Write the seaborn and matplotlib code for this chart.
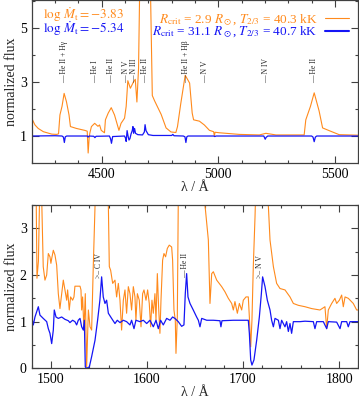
import numpy as np
import matplotlib
matplotlib.use("Agg")
import matplotlib.pyplot as plt
from matplotlib.lines import Line2D
from matplotlib.ticker import MultipleLocator, FixedLocator
import seaborn as sns

# --- optical range (top panel) ---
opt_wave_a = [4200, 4214, 4228, 4250, 4286, 4307, 4315, 4321, 4330, 4339,
              4349, 4360, 4366, 4392, 4427, 4438, 4442, 4446, 4449, 4456,
              4470, 4484, 4491, 4498, 4512, 4516, 4528, 4541, 4555, 4574,
              4583, 4598, 4605, 4612, 4623, 4636, 4644, 4651, 4658, 4663,
              4668, 4680, 4695, 4705, 4710, 4717, 4727, 4755, 4776, 4797,
              4818, 4825, 4839, 4858, 4868, 4877, 4888, 4894, 4919, 4940,
              4962, 4980, 4983, 4986, 5005, 5090, 5176, 5204, 5247, 5368,
              5375, 5395, 5411, 5432, 5447, 5475, 5518, 5600]
opt_flux_a = [1.66, 1.41, 1.28, 1.16, 1.07, 1.06, 1.08, 1.78, 2.10, 2.58,
              2.27, 1.78, 1.35, 1.28, 1.21, 1.18, 0.37, 0.90, 1.10, 1.35,
              1.47, 1.36, 1.41, 1.21, 1.12, 1.60, 1.85, 2.05, 1.78, 1.21,
              1.47, 1.66, 2.10, 3.05, 2.77, 3.00, 3.10, 2.26, 3.50, 6.50,
              9.00, 12.0, 10.0, 7.00, 6.00, 2.50, 2.30, 1.80, 1.30, 1.15,
              1.13, 1.35, 2.20, 3.25, 3.10, 2.96, 1.85, 1.60, 1.55, 1.41,
              1.21, 1.16, 1.00, 1.14, 1.12, 1.06, 1.04, 1.10, 1.04, 1.04,
              1.60, 2.10, 2.60, 1.93, 1.30, 1.20, 1.05, 1.03]

opt_wave_b = [4200, 4300, 4330, 4336, 4340, 4344, 4350, 4438, 4442, 4446,
              4466, 4471, 4476, 4533, 4538, 4542, 4547, 4598, 4602, 4605,
              4609, 4613, 4617, 4621, 4626, 4631, 4634, 4637, 4641, 4645,
              4655, 4675, 4683, 4686, 4690, 4700, 4720, 4800, 4805, 4810,
              4850, 4857, 4861, 4865, 4870, 4980, 4985, 4990, 5195, 5201,
              5205, 5212, 5400, 5406, 5411, 5416, 5422, 5600]
opt_flux_b = [1.00, 1.01, 1.00, 0.96, 0.76, 0.97, 1.00, 1.00, 0.96, 1.00,
              0.99, 0.94, 0.99, 1.00, 0.90, 0.73, 0.98, 1.00, 0.92, 0.80,
              1.20, 1.00, 0.85, 0.90, 1.08, 1.20, 1.35, 1.10, 1.28, 1.10,
              1.05, 1.04, 1.15, 1.42, 1.20, 1.05, 1.02, 1.02, 1.06, 1.01,
              1.00, 0.97, 0.76, 0.97, 1.00, 1.00, 0.98, 1.00, 1.00, 0.88,
              0.95, 1.00, 1.00, 0.96, 0.79, 0.96, 1.00, 1.00]

opt_line_wave = [4340, 4471, 4542, 4604, 4640, 4686, 4861, 4945, 5204, 5412]
opt_line_name = ["He II + H\u03b3", "He I", "He II", "N V", "N III", "He II",
                 "He II + H\u03b2", "N V", "N IV", "He II"]

# --- UV range (bottom panel) ---
uv_wave_a = [1480, 1484.5, 1485.5, 1487, 1488.5, 1490, 1492, 1493.8, 1495.6, 1497.3,
             1499, 1500, 1500.8, 1502.5, 1504.2, 1506, 1507.7, 1509.4, 1511.2, 1512.9,
             1514.6, 1516.4, 1517.4, 1519.1, 1520.5, 1522.6, 1524, 1525, 1530.3, 1531.3,
             1532, 1533, 1534.4, 1535.8, 1537.2, 1539, 1540.7, 1542.4, 1544.1, 1545.9,
             1547, 1558, 1559.8, 1560.8, 1562.2, 1564.3, 1566.7, 1568.4, 1570.2, 1571.9,
             1573.6, 1575.4, 1577.1, 1578.8, 1580.6, 1582.3, 1584, 1585.8, 1587.5, 1588.5,
             1590, 1592, 1593.8, 1595.5, 1596.9, 1599, 1600.7, 1602.4, 1603.8, 1605.2,
             1606.6, 1608.3, 1609.4, 1610.8, 1612.1, 1613.5, 1614.6, 1616.3, 1617.7, 1619.4,
             1621.2, 1623.2, 1625.7, 1626.7, 1628.1, 1629.5, 1630.2, 1631.6, 1632.6, 1634,
             1658, 1660.4, 1663.9, 1665.6, 1667.4, 1669.1, 1672.6, 1677.8, 1681.2, 1684.7,
             1688.2, 1689.9, 1691.6, 1694.1, 1696.2, 1698.6, 1700.3, 1703.1, 1705.5, 1706.6,
             1708, 1709.3, 1710.7, 1712.5, 1713.5, 1715, 1724, 1726.3, 1728.1, 1731.6,
             1735, 1738.5, 1743.7, 1748.9, 1752.4, 1757.6, 1764.5, 1771.5, 1780.1, 1785.3,
             1787.1, 1788.8, 1792.3, 1795.7, 1797.5, 1800.3, 1802.7, 1804.4, 1806.2, 1809.6,
             1814.8, 1818.3, 1820]
uv_flux_a = [4.5, 4.0, 1.93, 2.3, 4.0, 4.0, 2.18, 1.89, 2.0, 2.46,
             2.39, 2.25, 2.35, 2.53, 2.43, 2.21, 1.6, 1.28, 1.6, 1.89,
             1.68, 1.46, 1.68, 1.25, 1.53, 1.46, 1.53, 1.76, 1.76, 1.68,
             1.25, 1.53, 0.82, 1.6, 0.03, 1.25, 0.89, 0.82, 2.18, 3.46,
             4.5, 4.5, 3.5, 2.18, 2.1, 1.82, 1.89, 1.53, 1.82, 1.46,
             0.82, 1.46, 1.68, 1.18, 1.75, 1.6, 1.25, 1.75, 1.53, 1.03,
             1.6, 1.46, 0.89, 1.6, 1.68, 1.46, 1.68, 1.39, 0.89, 1.46,
             1.18, 1.6, 1.03, 2.03, 1.32, 0.75, 1.46, 2.32, 2.46, 2.39,
             2.57, 2.64, 2.6, 2.32, 1.25, 1.03, 0.32, 1.1, 3.6, 4.5,
             4.5, 3.5, 2.75, 1.39, 2.03, 2.07, 1.89, 1.75, 1.64, 1.5,
             1.39, 1.25, 1.43, 1.18, 1.39, 1.25, 1.46, 1.53, 1.53, 1.1,
             0.46, 1.03, 2.18, 3.25, 4.0, 4.5, 4.5, 3.5, 2.75, 2.18,
             1.82, 1.71, 1.68, 1.53, 1.39, 1.35, 1.32, 1.28, 1.25, 1.32,
             0.85, 1.25, 1.39, 1.5, 1.39, 1.46, 1.57, 1.32, 1.53, 1.5,
             1.39, 1.25, 1.25]

uv_wave_b = [1480, 1481.7, 1483.4, 1486.9, 1488.6, 1492, 1495.6, 1497.3, 1499, 1500.8,
             1502.5, 1503.5, 1505.3, 1507.7, 1511.2, 1514.6, 1518.1, 1519.8, 1522.6, 1525,
             1526.8, 1528.5, 1530.3, 1532, 1533.7, 1534.8, 1535.8, 1537.2, 1540, 1542.4,
             1545.9, 1548.6, 1551, 1552.8, 1554.5, 1556.3, 1558, 1559.8, 1563.2, 1566.7,
             1569.1, 1571.9, 1575.4, 1578.8, 1582.3, 1584, 1586.5, 1588.5, 1592.7, 1596.2,
             1599.7, 1603.1, 1606.6, 1609.4, 1611.8, 1614.2, 1617, 1620.5, 1624, 1626.7,
             1629.1, 1632.6, 1636.1, 1638.5, 1639.9, 1641.3, 1642.7, 1644.8, 1648.2, 1651.7,
             1653.5, 1655.2, 1657, 1662.2, 1669.1, 1676, 1677, 1678.1, 1689.9, 1705.5,
             1706.6, 1708, 1709.3, 1711.4, 1714.2, 1717, 1719.1, 1720.4, 1722.9, 1725.3,
             1728.1, 1729.8, 1731.6, 1733.3, 1736.8, 1738.5, 1740.2, 1743.7, 1745.4, 1747.2,
             1748.9, 1750.6, 1752.4, 1759.3, 1764.5, 1773.2, 1774.9, 1776.7, 1783.6, 1787.1,
             1788.8, 1797.5, 1801, 1802.7, 1807.9, 1809.6, 1811.4, 1820]
uv_flux_b = [1.1, 0.93, 1.1, 1.32, 1.14, 1.07, 1.0, 0.85, 0.75, 0.53,
             0.82, 1.25, 1.1, 1.07, 1.1, 1.05, 1.02, 0.98, 1.03, 1.0,
             0.93, 1.03, 1.07, 0.89, 0.82, 1.03, 0.03, 0.0, 0.03, 0.25,
             0.6, 1.03, 1.46, 1.96, 1.53, 1.39, 1.46, 1.18, 1.07, 0.96,
             1.03, 0.98, 1.03, 1.0, 0.93, 1.03, 0.85, 1.03, 1.0, 1.03,
             0.96, 1.03, 0.89, 1.03, 0.85, 1.03, 0.93, 1.07, 1.03, 1.1,
             1.07, 1.0, 0.9, 0.93, 1.6, 2.03, 1.53, 1.39, 1.25, 1.1,
             1.03, 0.89, 1.07, 1.03, 1.03, 1.02, 0.89, 1.02, 1.03, 1.03,
             0.75, 0.18, 0.07, 0.18, 0.6, 1.1, 1.6, 1.96, 1.75, 1.46,
             1.25, 1.03, 0.89, 1.07, 1.03, 0.85, 1.03, 0.89, 1.0, 0.79,
             0.96, 0.75, 1.0, 1.0, 1.01, 1.0, 0.85, 1.0, 1.0, 0.85,
             1.0, 0.99, 0.85, 1.0, 1.0, 0.89, 1.0, 1.0]

uv_line_wave = [1550, 1640, 1718]
uv_line_name = ["C IV", "He II", "N V"]
uv_line_mark = [">\u2013", "\u2014", ">\u2013"]

model_a = (r"$\log\,\dot{M}_\mathrm{t} = -3.83$",
           r"$R_\mathrm{crit}$ = 2.9 $R_\odot$, $T_{2/3}$ = 40.3 kK")
model_b = (r"$\log\,\dot{M}_\mathrm{t} = -5.34$",
           r"$R_\mathrm{crit}$ = 31.1 $R_\odot$, $T_{2/3}$ = 40.7 kK")

ORANGE = "#ff8a1c"
BLUE = "#1515f5"

sns.set_theme(style="ticks")
plt.rcParams["font.family"] = ["Liberation Serif", "DejaVu Serif"]
plt.rcParams["mathtext.fontset"] = "stix"
plt.rcParams["axes.edgecolor"] = "0.25"
plt.rcParams["axes.linewidth"] = 0.9

fig = plt.figure(figsize=(3.59, 4.0), dpi=100)
ax1 = fig.add_axes([0.0883, 0.5925, 0.9097, 0.4075])
ax2 = fig.add_axes([0.0883, 0.0792, 0.9097, 0.4083])

# top panel
sns.lineplot(x=opt_wave_a, y=opt_flux_a, ax=ax1, color=ORANGE, linewidth=0.8,
             estimator=None, sort=False)
sns.lineplot(x=opt_wave_b, y=opt_flux_b, ax=ax1, color=BLUE, linewidth=0.9,
             estimator=None, sort=False)
ax1.set_xlim(4200, 5600)
ax1.set_ylim(0, 6.04)
ax1.xaxis.set_major_locator(MultipleLocator(500))
ax1.xaxis.set_minor_locator(MultipleLocator(100))
ax1.yaxis.set_major_locator(FixedLocator([1, 3, 5]))
ax1.yaxis.set_minor_locator(FixedLocator([2, 4, 6]))

for w, name in zip(opt_line_wave, opt_line_name):
    ax1.text(w, 2.95, "\u2014 " + name, rotation=90, ha="center", va="bottom",
             fontsize=5.5, color="0.15")

ax1.text(0.035, 0.908, model_a[0], transform=ax1.transAxes, color=ORANGE,
         fontsize=9.5, va="center", ha="left")
ax1.text(0.035, 0.822, model_b[0], transform=ax1.transAxes, color=BLUE,
         fontsize=9.5, va="center", ha="left")
handles = [Line2D([], [], color=ORANGE, lw=0.8), Line2D([], [], color=BLUE, lw=1.5)]
ax1.legend(handles, [model_a[1], model_b[1]], loc="upper right",
           bbox_to_anchor=(1.0, 0.98), frameon=False, markerfirst=False,
           fontsize=9.5, handlelength=1.8, handletextpad=0.6, labelspacing=-0.2,
           borderaxespad=0.3, labelcolor=[ORANGE, BLUE])

# bottom panel
sns.lineplot(x=uv_wave_a, y=uv_flux_a, ax=ax2, color=ORANGE, linewidth=0.8,
             estimator=None, sort=False)
sns.lineplot(x=uv_wave_b, y=uv_flux_b, ax=ax2, color=BLUE, linewidth=0.9,
             estimator=None, sort=False)
ax2.set_xlim(1480, 1820)
ax2.set_ylim(0, 3.5)
ax2.xaxis.set_major_locator(MultipleLocator(100))
ax2.xaxis.set_minor_locator(MultipleLocator(20))
ax2.yaxis.set_major_locator(MultipleLocator(1))
ax2.yaxis.set_minor_locator(MultipleLocator(0.5))

for w, name, mark in zip(uv_line_wave, uv_line_name, uv_line_mark):
    ax2.text(w, 1.93, mark + " " + name, rotation=90, ha="center", va="bottom",
             fontsize=5.5, color="0.15")

for ax in (ax1, ax2):
    ax.tick_params(which="both", direction="in", top=True, right=True,
                   labelsize=10, colors="0.25", labelcolor="black")
    ax.tick_params(which="major", length=5, width=0.8, pad=3.5)
    ax.tick_params(which="minor", length=2.5, width=0.8)
    ax.set_ylabel("normalized flux", fontsize=10, labelpad=1)
    ax.set_xlabel("\u03bb / \u00c5", fontsize=10, labelpad=0)

fig.savefig("out.png", dpi=100)
